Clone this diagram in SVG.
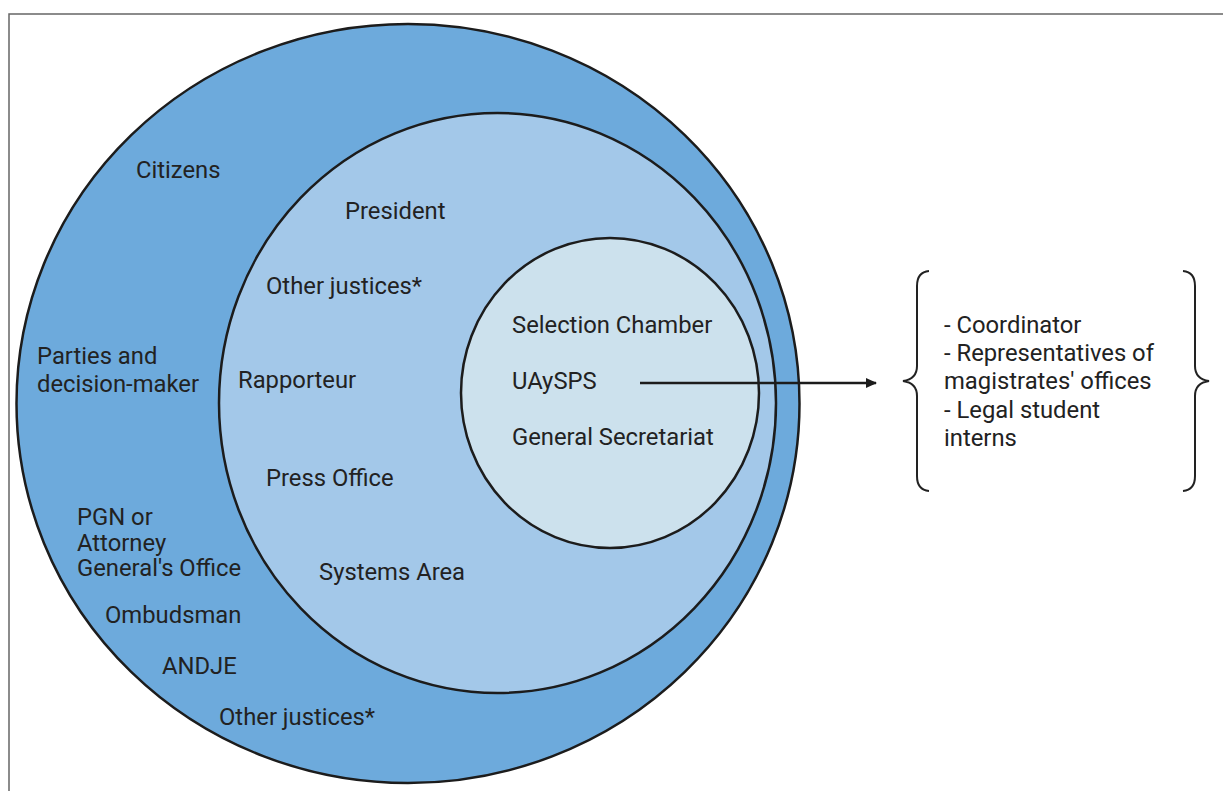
<svg xmlns="http://www.w3.org/2000/svg" width="1223" height="791" viewBox="0 0 1223 791">
<style>
.c{stroke:#1c1c1c;stroke-width:2.5}
.t{font-family:Roboto,"Liberation Sans",sans-serif;font-size:23.8px;fill:#222}
.br{fill:none;stroke:#222;stroke-width:2}
</style>
<defs>
<marker id="ah" markerWidth="12" markerHeight="10" refX="10" refY="5" orient="auto" markerUnits="userSpaceOnUse">
<path d="M0,0 L11,5 L0,10 Z" fill="#1c1c1c"/>
</marker>
</defs>
<rect width="1223" height="791" fill="#fff"/>
<path d="M9,791 L9,14 L1223,14" fill="none" stroke="#666" stroke-width="1.5"/>
<g id="outer">
<ellipse class="c" cx="408" cy="403.5" rx="391.5" ry="379.5" fill="#6DAADC"/>
<text class="t" x="136" y="178">Citizens</text>
<text class="t" x="37" y="364">Parties and</text>
<text class="t" x="37" y="392">decision-maker</text>
<text class="t" x="77" y="525">PGN or</text>
<text class="t" x="77" y="551">Attorney</text>
<text class="t" x="77" y="576">General's Office</text>
<text class="t" x="105" y="623">Ombudsman</text>
<text class="t" x="162" y="674">ANDJE</text>
<text class="t" x="219" y="725">Other justices*</text>
</g>
<g id="middle">
<ellipse class="c" cx="497.5" cy="403" rx="278.5" ry="290" fill="#A3C8E9"/>
<text class="t" x="345" y="219">President</text>
<text class="t" x="266" y="294">Other justices*</text>
<text class="t" x="238" y="388">Rapporteur</text>
<text class="t" x="266" y="486">Press Office</text>
<text class="t" x="319" y="580">Systems Area</text>
</g>
<g id="inner">
<ellipse class="c" cx="610" cy="393" rx="149" ry="155" fill="#CCE1ED"/>
<text class="t" x="512" y="333">Selection Chamber</text>
<text class="t" x="512" y="389">UAySPS</text>
<text class="t" x="512" y="445">General Secretariat</text>
</g>
<g id="connectors">
<line x1="640" y1="383" x2="876" y2="383" stroke="#1c1c1c" stroke-width="2.5" marker-end="url(#ah)"/>
</g>
<g id="members">
<path class="br" d="M929,271 Q917,272 917,286 L917,366 Q917,379 903,381 Q917,383 917,396 L917,476 Q917,490 929,491"/>
<path class="br" d="M1183,271 Q1195,272 1195,286 L1195,366 Q1195,379 1209,381 Q1195,383 1195,396 L1195,476 Q1195,490 1183,491"/>
<text class="t" x="944" y="333">- Coordinator</text>
<text class="t" x="944" y="361">- Representatives of</text>
<text class="t" x="944" y="389">magistrates' offices</text>
<text class="t" x="944" y="418">- Legal student</text>
<text class="t" x="944" y="446">interns</text>
</g>
</svg>
